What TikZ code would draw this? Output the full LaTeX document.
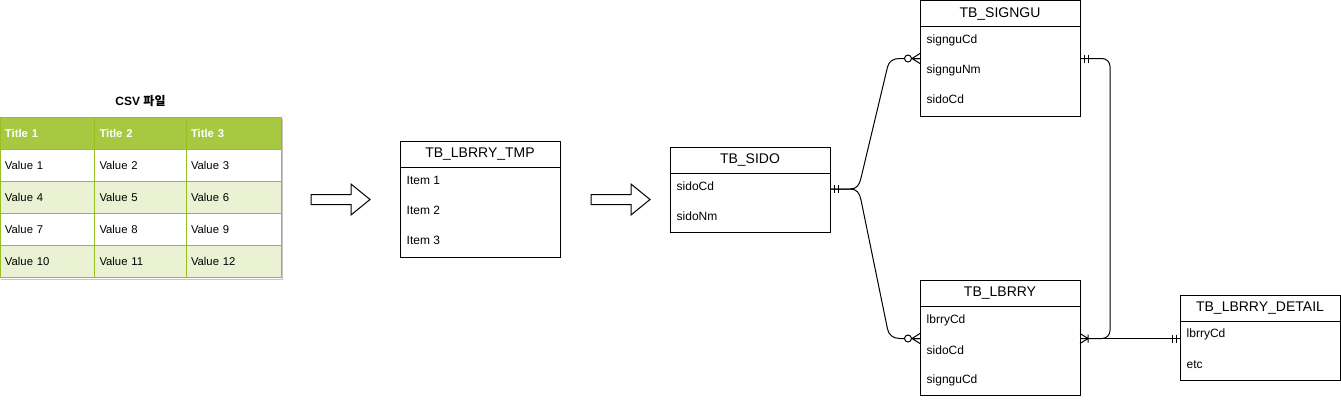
\documentclass[tikz,border=0pt]{standalone}
\usepackage{fontspec}
\setmainfont{Liberation Sans}
\newfontfamily\krfont{Noto Sans CJK KR}
\definecolor{hdrgreen}{HTML}{A7C942}
\definecolor{bordgreen}{HTML}{98BF21}
\definecolor{altgreen}{HTML}{EAF2D3}
\tikzset{
  ent/.style={draw, line width=1pt, minimum width=160pt, minimum height=26pt, inner sep=0pt, outer sep=0pt, font=\fontsize{14}{16}\selectfont, anchor=north west},
  entbody/.style={draw, line width=1pt, minimum width=160pt, inner sep=0pt, outer sep=0pt, anchor=north west},
  attr/.style={anchor=west, inner sep=0pt, font=\fontsize{12}{14}\selectfont},
  cell/.style={draw=bordgreen, line width=1pt, minimum height=32pt, inner xsep=5pt, inner ysep=0pt, outer sep=0pt, anchor=north west, align=left, font=\fontsize{11.3}{13}\selectfont},
  hcell/.style={cell, fill=hdrgreen, text=white, font=\bfseries\fontsize{11.3}{13}\selectfont},
  conn/.style={line width=1pt},
  bigarrow/.style={draw, line width=1pt, fill=white},
  mandone/.pic={\draw[line width=1pt] (4,-4)--(4,4) (8,-4)--(8,4);},
  zeromany/.pic={\draw[line width=1pt] (0,-5)--(-8,0)--(0,5) (0,0)--(-8,0);
                 \draw[line width=1pt, fill=white] (-12,0) circle[radius=3.5pt];},
  onemany/.pic={\draw[line width=1pt] (0,-5)--(8,0)--(0,5) (8,-4)--(8,4);},
}
\begin{document}
\begin{tikzpicture}[x=1pt,y=-1pt]
\useasboundingbox (0,0) rectangle (1341,400);

% ---- CSV table ----
\node[font=\bfseries\fontsize{12}{14}\selectfont] (csvtitle) at (140.5,101) {CSV {\krfont 파일}};
\draw[gray!45, line width=1pt] (282,119) -- (282,279) -- (1,279);
\node[hcell, text width=84.5pt] (h-a) at (0,117.5) {Title 1};
\node[hcell, text width=81.5pt] (h-b) at (94.5,117.5) {Title 2};
\node[hcell, text width=85pt] (h-c) at (186,117.5) {Title 3};
\foreach \i/\fc/\a/\b/\c in {1/white/Value 1/Value 2/Value 3,
                             2/altgreen/Value 4/Value 5/Value 6,
                             3/white/Value 7/Value 8/Value 9,
                             4/altgreen/Value 10/Value 11/Value 12}{
  \node[cell, fill=\fc, text width=84.5pt] (r\i-a) at (0,{117.5+32*\i}) {\a};
  \node[cell, fill=\fc, text width=81.5pt] (r\i-b) at (94.5,{117.5+32*\i}) {\b};
  \node[cell, fill=\fc, text width=85pt] (r\i-c) at (186,{117.5+32*\i}) {\c};
}

% ---- big arrows ----
\draw[bigarrow] (311,194.5) -- (351,194.5) -- (351,184) -- (370,199.5) -- (351,215) -- (351,204.5) -- (311,204.5) -- cycle;
\draw[bigarrow] (591,194.5) -- (631,194.5) -- (631,184) -- (650,199.5) -- (631,215) -- (631,204.5) -- (591,204.5) -- cycle;

% ---- TB_LBRRY_TMP ----
\node[ent] (tmp) at (400,141) {TB\_LBRRY\_TMP};
\node[entbody, minimum height=90pt] (tmpB) at (tmp.south west) {};
\node[attr] (tmp1) at ([xshift=6.5pt,yshift=-13pt]tmpB.north west) {Item 1};
\node[attr] (tmp2) at ([xshift=6.5pt,yshift=-43pt]tmpB.north west) {Item 2};
\node[attr] (tmp3) at ([xshift=6.5pt,yshift=-73pt]tmpB.north west) {Item 3};

% ---- TB_SIDO ----
\node[ent] (sido) at (670,147) {TB\_SIDO};
\node[entbody, minimum height=59pt] (sidoB) at (sido.south west) {};
\node[attr] (sido1) at ([xshift=6.5pt,yshift=-13pt]sidoB.north west) {sidoCd};
\node[attr] (sido2) at ([xshift=6.5pt,yshift=-43pt]sidoB.north west) {sidoNm};

% ---- TB_SIGNGU ----
\node[ent] (signgu) at (920,0.5) {TB\_SIGNGU};
\node[entbody, minimum height=90pt] (signguB) at (signgu.south west) {};
\node[attr] (signgu1) at ([xshift=6.5pt,yshift=-14pt]signguB.north west) {signguCd};
\node[attr] (signgu2) at ([xshift=6.5pt,yshift=-44pt]signguB.north west) {signguNm};
\node[attr] (signgu3) at ([xshift=6.5pt,yshift=-73pt]signguB.north west) {sidoCd};

% ---- TB_LBRRY ----
\node[ent] (lbrry) at (920,280.5) {TB\_LBRRY};
\node[entbody, minimum height=89pt] (lbrryB) at (lbrry.south west) {};
\node[attr] (lbrry1) at ([xshift=6.5pt,yshift=-13.5pt]lbrryB.north west) {lbrryCd};
\node[attr] (lbrry2) at ([xshift=6.5pt,yshift=-43.5pt]lbrryB.north west) {sidoCd};
\node[attr] (lbrry3) at ([xshift=6.5pt,yshift=-74pt]lbrryB.north west) {signguCd};

% ---- TB_LBRRY_DETAIL ----
\node[ent] (detail) at (1180,295.5) {TB\_LBRRY\_DETAIL};
\node[entbody, minimum height=59pt] (detailB) at (detail.south west) {};
\node[attr] (detail1) at ([xshift=6.5pt,yshift=-13pt]detailB.north west) {lbrryCd};
\node[attr] (detail2) at ([xshift=6.5pt,yshift=-43pt]detailB.north west) {etc};

% ---- connection points ----
\coordinate (pSidoR) at ([yshift=-16pt]sidoB.north east);
\coordinate (pSigL) at ([yshift=-32pt]signguB.north west);
\coordinate (pSigR) at ([yshift=-32pt]signguB.north east);
\coordinate (pLbL) at ([yshift=-32pt]lbrryB.north west);
\coordinate (pLbR) at ([yshift=-32pt]lbrryB.north east);
\coordinate (pDetL) at ([yshift=-17pt]detailB.north west);

% ---- connectors ----
\draw[conn] (pSidoR) -- (850,189) .. controls (857,189) and (859.4,184.8) .. (861,178)
  -- (887.5,67) .. controls (888.9,61.2) and (893,58.5) .. (900,58.5) -- (pSigL);
\draw[conn] (pSidoR) -- (850,189) .. controls (857,189) and (859.6,193.1) .. (861,200)
  -- (887.5,329) .. controls (888.7,334.9) and (893,338.5) .. (900,338.5) -- (pLbL);
\draw[conn, rounded corners=8pt] (pSigR) -- (1110,58.5) -- (1110,338.5) -- (pLbR);
\draw[conn] (pLbR) -- (pDetL);

% ---- markers ----
\pic at (pSidoR) {mandone};
\pic at (pSigL) {zeromany};
\pic at (pLbL) {zeromany};
\pic at (pSigR) {mandone};
\pic at (pLbR) {onemany};
\pic[xscale=-1] at (pDetL) {mandone};
\end{tikzpicture}
\end{document}
